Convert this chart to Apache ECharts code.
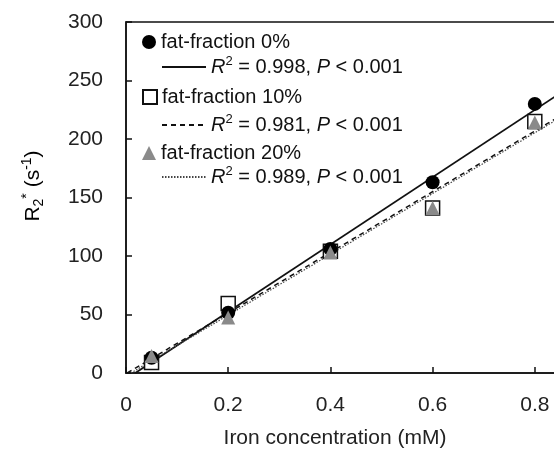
<!DOCTYPE html>
<html>
<head>
<meta charset="utf-8">
<script src="https://cdn.jsdelivr.net/npm/echarts@6/dist/echarts.min.js"></script>
<style>
  html, body { margin: 0; padding: 0; background: #fff; }
  #main { width: 554px; height: 450px; }
</style>
</head>
<body>
<div id="main"></div>
<script>
// data
var ironConc = [0.05, 0.2, 0.4, 0.6, 0.8];
var ff0 = [13, 51.5, 106, 163, 230];
var ff10 = [9, 59.5, 104, 141, 215];
var ff20 = [14.5, 47.5, 103, 141, 214];
var groupNames = ['fat-fraction 0%', 'fat-fraction 10%', 'fat-fraction 20%'];
var fitNames = ['fit 0%', 'fit 10%', 'fit 20%'];
var fitR2 = ['0.998', '0.981', '0.989'];
var xTicks = [0, 0.2, 0.4, 0.6, 0.8, 1.0];
var yTicks = [0, 50, 100, 150, 200, 250, 300];

var FONT = 'Liberation Sans, Arial, sans-serif';

// least-squares line through a group, drawn from y = 0 to x = 1
function fitLine(xs, ys) {
    var n = xs.length, mx = 0, my = 0;
    for (var i = 0; i < n; i++) { mx += xs[i]; my += ys[i]; }
    mx /= n; my /= n;
    var sxx = 0, sxy = 0;
    for (var i = 0; i < n; i++) {
        sxx += (xs[i] - mx) * (xs[i] - mx);
        sxy += (xs[i] - mx) * (ys[i] - my);
    }
    var b = sxy / sxx, a = my - b * mx;
    var x0 = -a / b, x1 = xTicks[xTicks.length - 1];
    return [[x0, 0], [x1, a + b * x1]];
}

function pairs(ys) {
    return ironConc.map(function (x, i) { return [x, ys[i]]; });
}

var myChart = echarts.init(document.getElementById('main'));

var richText = {
    i: { fontStyle: 'italic', fontSize: 20, fontFamily: FONT, color: '#111', lineHeight: 24 },
    n: { fontSize: 20, fontFamily: FONT, color: '#111', lineHeight: 24 },
    sup: { fontSize: 13, fontFamily: FONT, color: '#111', lineHeight: 14, verticalAlign: 'top' }
};

function legendBox(name, top, left, w, h) {
    return {
        data: [name],
        top: top,
        left: left,
        padding: 0,
        itemWidth: w,
        itemHeight: h,
        selectedMode: false,
        textStyle: { fontSize: 20, fontFamily: FONT, color: '#111', lineHeight: 24, rich: richText },
        formatter: function (nm) {
            var k = fitNames.indexOf(nm);
            if (k < 0) return nm;
            return '{i|R}{sup|2}{n| = ' + fitR2[k] + ', }{i|P}{n| < 0.001}';
        }
    };
}

var option = {
    backgroundColor: '#fff',
    animation: false,
    grid: {
        left: 126, top: 22, width: 511, height: 351,
        outerBoundsMode: 'none', containLabel: false,
        show: true, borderColor: '#111', borderWidth: 1.5
    },
    xAxis: {
        type: 'value', min: xTicks[0], max: xTicks[xTicks.length - 1], interval: 0.2,
        axisLine: { lineStyle: { color: '#111', width: 1.5 } },
        axisTick: { inside: true, length: 6, lineStyle: { color: '#111', width: 1.5 } },
        axisLabel: { fontSize: 21, fontFamily: FONT, color: '#222', margin: 22 },
        splitLine: { show: false }
    },
    yAxis: {
        type: 'value', min: yTicks[0], max: yTicks[yTicks.length - 1], interval: 50,
        axisLine: { lineStyle: { color: '#111', width: 1.5 } },
        axisTick: { inside: true, length: 6, lineStyle: { color: '#111', width: 1.5 } },
        axisLabel: { fontSize: 21, fontFamily: FONT, color: '#222', margin: 23 },
        splitLine: { show: false }
    },
    legend: [
        legendBox(groupNames[0], 30, 142, 14, 14),
        legendBox(fitNames[0], 55, 161, 44, 14),
        legendBox(groupNames[1], 85, 142, 14, 14),
        legendBox(fitNames[1], 113, 161, 44, 14),
        legendBox(groupNames[2], 141, 142, 14, 14),
        legendBox(fitNames[2], 165, 161, 44, 14)
    ],
    graphic: [
        {
            type: 'text', x: 335, y: 438,
            style: {
                text: 'Iron concentration (mM)', font: '21px ' + FONT, fill: '#222',
                align: 'center', verticalAlign: 'middle', textAlign: 'center', textVerticalAlign: 'middle'
            }
        },
        {
            type: 'text', x: 33, y: 186, rotation: Math.PI / 2,
            style: {
                text: '{m|R}{sub|2}{sup|*}{m| (s}{sup|-1}{m|)}',
                align: 'center', verticalAlign: 'middle', textAlign: 'center', textVerticalAlign: 'middle',
                rich: {
                    m: { fontSize: 21, fontFamily: FONT, color: '#222', lineHeight: 26 },
                    sub: { fontSize: 14, fontFamily: FONT, color: '#222', lineHeight: 14, verticalAlign: 'bottom' },
                    sup: { fontSize: 14, fontFamily: FONT, color: '#222', lineHeight: 14, verticalAlign: 'top' }
                }
            }
        }
    ],
    series: [
        {
            name: fitNames[0], type: 'line', data: fitLine(ironConc, ff0),
            symbol: 'none', itemStyle: { color: 'rgba(0,0,0,0)' },
            lineStyle: { color: '#111', width: 1.8, type: 'solid' }, z: 2
        },
        {
            name: fitNames[1], type: 'line', data: fitLine(ironConc, ff10),
            symbol: 'none', itemStyle: { color: 'rgba(0,0,0,0)' },
            lineStyle: { color: '#111', width: 1.5, type: [5, 4] }, z: 2
        },
        {
            name: fitNames[2], type: 'line', data: fitLine(ironConc, ff20),
            symbol: 'none', itemStyle: { color: 'rgba(0,0,0,0)' },
            lineStyle: { color: '#444', width: 1.2, type: [1.5, 1.5] }, z: 2
        },
        {
            name: groupNames[0], type: 'scatter', data: pairs(ff0),
            symbol: 'circle', symbolSize: 14,
            itemStyle: { color: '#000', opacity: 1 }, z: 4
        },
        {
            name: groupNames[1], type: 'scatter', data: pairs(ff10),
            symbol: 'rect', symbolSize: 14,
            itemStyle: { color: '#fff', borderColor: '#111', borderWidth: 1.5, opacity: 1 }, z: 3
        },
        {
            name: groupNames[2], type: 'scatter', data: pairs(ff20),
            symbol: 'triangle', symbolSize: 14,
            itemStyle: { color: '#8a8a8a', opacity: 1 }, z: 5
        }
    ]
};

myChart.setOption(option);
</script>
</body>
</html>
